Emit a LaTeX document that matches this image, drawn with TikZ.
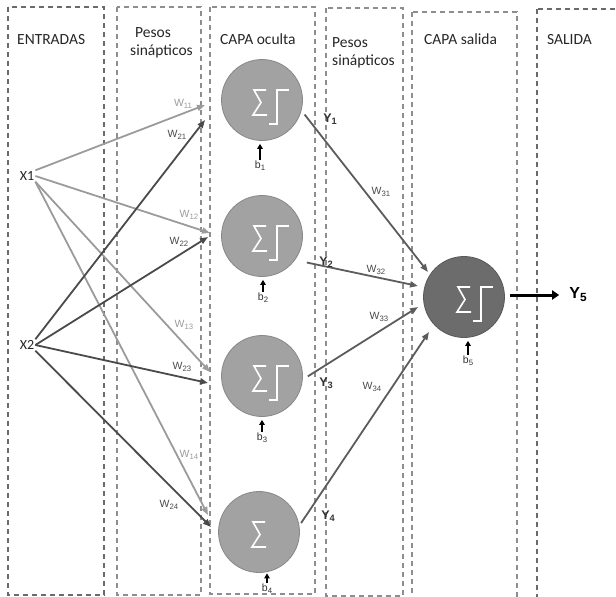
\documentclass[tikz,border=0pt]{standalone}
\usepackage{graphicx}
\usepackage{fontspec}
\setmainfont{Liberation Sans}
\newfontfamily\calibri{Carlito}
\usetikzlibrary{arrows.meta}

\newcommand{\subi}[1]{\raisebox{-0.35ex}{\scalebox{0.74}{#1}}}

\definecolor{grisclaro}{HTML}{9B9B9B}
\definecolor{grisoscuro}{HTML}{4A4A4A}
\definecolor{grismedio}{HTML}{5C5C5C}
\definecolor{rellenoN}{HTML}{A2A2A2}
\definecolor{bordeN}{HTML}{888888}
\definecolor{rellenoS}{HTML}{6C6C6C}
\definecolor{bordeS}{HTML}{585858}
\definecolor{cajagris}{HTML}{8E8E8E}
\definecolor{cajaoscura}{HTML}{6A6A6A}

\tikzset{
  caja/.style={draw=cajagris, line width=1.1pt, dash pattern=on 5pt off 4pt},
  titulo/.style={anchor=base west, inner sep=0pt, text=black!85,
    font=\calibri\fontsize{15.5}{18}\selectfont},
  neurona/.style={circle, minimum size=81pt, inner sep=0pt,
    fill=rellenoN, draw=bordeN, line width=0.8pt},
  neuronaS/.style={neurona, fill=rellenoS, draw=bordeS},
  entrada/.style={inner sep=1pt, text=black!85, font=\calibri\fontsize{14}{16}\selectfont},
  peso/.style={inner sep=0pt, font=\fontsize{10.5}{12}\selectfont},
  yy/.style={inner sep=0pt, text=black!80, font=\bfseries\fontsize{12.5}{14}\selectfont},
  sesgo/.style={anchor=north, inner sep=0.5pt, text=black!80, font=\fontsize{10.5}{12}\selectfont},
  flechaA/.style={grisclaro, line width=1.8pt, -{Triangle[length=8pt,width=6pt]}},
  flechaB/.style={grisoscuro, line width=1.8pt, -{Triangle[length=8pt,width=6pt]}},
  flechaC/.style={grismedio, line width=1.8pt, -{Triangle[length=8pt,width=6pt]}},
  flechaSesgo/.style={black, line width=1.6pt, shorten >=3pt, -{Triangle[length=5pt,width=5.5pt]}},
  suma/.pic={\draw[white, line width=1.6pt, line join=miter]
    (4,-10) -- (-8,-10) -- (-1,2.5) -- (-9,15) -- (5,15);},
  escalon/.pic={\draw[white, line width=2.2pt, line join=miter]
    (7,24) -- (15,24) -- (15,-10) -- (27,-10);}
}

\begin{document}
\begin{tikzpicture}[x=1pt, y=-1pt]
  % 1. 邊界與六個虛線框
  \clip (0,0) rectangle (616,597);
  \draw[caja, draw=cajaoscura] (8,7) rectangle (104,595);
  \draw[caja] (117,7) rectangle (201,595);
  \draw[caja] (210,7) rectangle (315,594);
  \draw[caja] (326,8) rectangle (403,596);
  \draw[caja] (412,12) rectangle (517,612);
  \draw[caja, draw=cajaoscura] (537,9) rectangle (630,612);

  % 2. 標題
  \node[titulo] (tEntradas) at (17,44) {ENTRADAS};
  \node[titulo] (tPesosA) at (135,37) {Pesos};
  \node[titulo] (tSinapA) at (130,55) {sinápticos};
  \node[titulo] (tOculta) at (220,44) {CAPA oculta};
  \node[titulo] (tPesosB) at (332,47) {Pesos};
  \node[titulo] (tSinapB) at (332,65) {sinápticos};
  \node[titulo] (tCapaSal) at (424,44) {CAPA salida};
  \node[titulo] (tSalida) at (547,44) {SALIDA};

  % 3. 神經元
  \node[neurona] (N1) at (262,100) {};
  \node[neurona] (N2) at (262,236) {};
  \node[neurona] (N3) at (262,376) {};
  \node[neurona] (N4) at (259,532) {};
  \node[neuronaS] (N5) at (464,297) {};
  \foreach \n in {N1,N2,N3}{
    \pic at (\n) {suma};
    \pic at (\n) {escalon};
  }
  \pic[xshift=2pt] at (N4) {suma};
  \pic[xshift=2pt] at (N5) {suma};
  \pic[xshift=2pt] at (N5) {escalon};

  % 4. 輸入
  \node[entrada] (X1) at (27,176) {X1};
  \node[entrada] (X2) at (27,345) {X2};

  % 5. 箭頭終點
  \coordinate (a11) at (205,105);
  \coordinate (a12) at (210,233);
  \coordinate (a13) at (210,372);
  \coordinate (a14) at (208,515);
  \coordinate (a21) at (205,120);
  \coordinate (a22) at (208,237);
  \coordinate (a23) at (208,383);
  \coordinate (a24) at (211,527);
  \coordinate (a31) at (428,272);
  \coordinate (a32) at (418,286);
  \coordinate (a33) at (418,307);
  \coordinate (a34) at (429,332);

  % 6. X1 與 X2 的連線
  \draw[flechaA] (X1.north east) -- (a11);
  \draw[flechaA] (X1.east) -- (a12);
  \draw[flechaA] (X1.south east) -- (a13);
  \draw[flechaA] (X1.south east) -- (a14);
  \draw[flechaB] (X2.north east) -- (a21);
  \draw[flechaB] (X2.east) -- (a22);
  \draw[flechaB] (X2.east) -- (a23);
  \draw[flechaB] (X2.south east) -- (a24);

  % 7. 隱藏層到輸出層
  \draw[flechaC, shorten <=5pt] (N1.-15) -- (a31);
  \draw[flechaC, shorten <=12pt] (N2.-36) -- (a32);
  \draw[flechaC, shorten <=6pt] (N3.-5) -- (a33);
  \draw[flechaC, shorten <=3pt] (N4.9) -- (a34);

  % 8. 權重標籤
  \node[peso, text=grisclaro] (w11) at (183,104) {W\subi{11}};
  \node[peso, text=grisoscuro] (w21) at (177,135) {W\subi{21}};
  \node[peso, text=grisclaro] (w12) at (189,215) {W\subi{12}};
  \node[peso, text=grisoscuro] (w22) at (179,242) {W\subi{22}};
  \node[peso, text=grisclaro] (w13) at (184,325) {W\subi{13}};
  \node[peso, text=grisoscuro] (w23) at (182,367) {W\subi{23}};
  \node[peso, text=grisclaro] (w14) at (189,455) {W\subi{14}};
  \node[peso, text=grisoscuro] (w24) at (169,505) {W\subi{24}};
  \node[peso, text=grisoscuro] (w31) at (381,192) {W\subi{31}};
  \node[peso, text=grisoscuro] (w32) at (376,270) {W\subi{32}};
  \node[peso, text=grisoscuro] (w33) at (379,317) {W\subi{33}};
  \node[peso, text=grisoscuro] (w34) at (372,387) {W\subi{34}};

  % 9. Y 標籤
  \node[yy] (y1) at (330,119) {Y\subi{1}};
  \node[yy] (y2) at (326,262) {Y\subi{2}};
  \node[yy] (y3) at (326,383) {Y\subi{3}};
  \node[yy] (y4) at (328,516) {Y\subi{4}};

  % 10. 偏置
  \node[sesgo] (b1) at (260,160) {b\subi{1}};
  \node[sesgo] (b2) at (263,292) {b\subi{2}};
  \node[sesgo] (b3) at (262,432) {b\subi{3}};
  \node[sesgo] (b4) at (267,583) {b\subi{4}};
  \node[sesgo] (b5) at (468,355) {b\subi{5}};
  \draw[flechaSesgo] (b1.north) -- (b1.north |- N1.south);
  \draw[flechaSesgo] (b2.north) -- (b2.north |- N2.south);
  \draw[flechaSesgo] (b3.north) -- (b3.north |- N3.south);
  \draw[flechaSesgo, shorten >=0.5pt] (b4.north) -- (b4.north |- N4.south);
  \draw[flechaSesgo] (b5.north) -- (b5.north |- N5.south);

  % 11. 輸出
  \node[inner sep=0pt, font=\bfseries\fontsize{16}{18}\selectfont] (Y5) at (578,295) {Y\subi{5}};
  \draw[black, line width=3pt, shorten <=5pt, shorten >=10pt, -{Triangle[length=7pt,width=9pt]}]
    (Y5.west -| N5.east) -- (Y5.west);
\end{tikzpicture}
\end{document}
